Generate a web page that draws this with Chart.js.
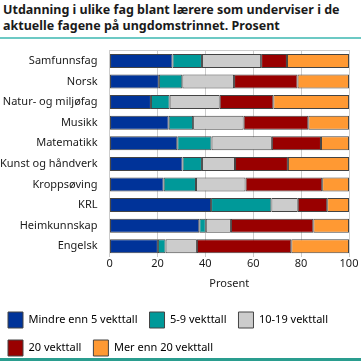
<!DOCTYPE html>
<html>
<head>
<meta charset="utf-8">
<script src="https://cdn.jsdelivr.net/npm/chart.js@4"></script>
<style>
  body { margin: 0; background: #fff; width: 361px; height: 361px; overflow: hidden; position: relative; }
  #title { position: absolute; left: 3px; top: 2px; font: bold 12.5px "Noto Sans", sans-serif; line-height: 16px; color: #1a1a1a; }
  #topline { position: absolute; left: 0; top: 37px; width: 361px; height: 2px; background: #6cc9c4; }
  #wrap { position: absolute; left: -4px; top: 40px; width: 365px; height: 326px; }
  #bottomline { position: absolute; left: 0; top: 358px; width: 361px; height: 3px; background: #2a9d8f; border-top: 0; }
  #cover { position: absolute; left: 0; top: 360px; width: 361px; height: 10px; background: #fff; }
</style>
</head>
<body>
<div id="title">Utdanning i ulike fag blant lærere som underviser i de<br>aktuelle fagene på ungdomstrinnet. Prosent</div>
<div id="topline"></div>
<div id="wrap"><canvas id="chart"></canvas></div>
<div id="bottomline"></div>
<script>
// fag (categories)
const subjects = ["Samfunnsfag", "Norsk", "Natur- og miljøfag", "Musikk", "Matematikk",
                  "Kunst og håndverk", "Kroppsøving", "KRL", "Heimkunnskap", "Engelsk"];

// percentages per education level
const under5  = [26.3, 20.6, 17.3, 24.7, 28.3, 30.5, 22.6, 42.4, 37.5, 20.2];
const from5to9 = [12.3, 9.8, 7.8, 10.2, 14.3, 8.1, 13.5, 25.2, 2.7, 3.2];
const from10to19 = [24.7, 21.6, 20.9, 21.1, 25.2, 13.8, 20.7, 11.0, 10.5, 13.1];
const exactly20 = [10.8, 26.5, 22.4, 27.0, 20.5, 22.1, 32.0, 12.3, 34.4, 39.4];
const over20  = [25.9, 21.5, 31.6, 17.0, 11.7, 25.5, 11.2, 9.1, 14.9, 24.1];

const seriesNames = ["Mindre enn 5 vekttall", "5-9 vekttall", "10-19 vekttall", "20 vekttall", "Mer enn 20 vekttall"];
const seriesData = [under5, from5to9, from10to19, exactly20, over20];
const colors = ["#003399", "#009999", "#cccccc", "#990000", "#ff9933"];

const xTicks = [0, 20, 40, 60, 80, 100];

Chart.defaults.font.family = "'Noto Sans', sans-serif";
Chart.defaults.font.size = 11;
Chart.defaults.color = "#1a1a1a";

var datasets = [];
for (var i = 0; i < seriesNames.length; i++) {
    datasets.push({
        label: seriesNames[i],
        data: seriesData[i],
        backgroundColor: colors[i],
        borderColor: "#444",
        borderWidth: 1,
        borderSkipped: false,
        barPercentage: 0.68,
        categoryPercentage: 1
    });
}

new Chart("chart", {
    type: "bar",
    data: { labels: subjects, datasets: datasets },
    options: {
        indexAxis: "y",
        responsive: true,
        maintainAspectRatio: false,
        animation: false,
        layout: { padding: { top: 0, right: 12, left: 0, bottom: 0 } },
        plugins: {
            tooltip: { enabled: false },
            legend: {
                position: "bottom",
                align: "start",
                labels: {
                    boxWidth: 15,
                    boxHeight: 16,
                    padding: 12,
                    color: "#1a1a1a",
                    generateLabels: function (chart) {
                        return chart.data.datasets.map(function (ds, idx) {
                            return {
                                text: ds.label,
                                fillStyle: ds.backgroundColor,
                                strokeStyle: "#444",
                                lineWidth: 1,
                                datasetIndex: idx
                            };
                        });
                    }
                }
            }
        },
        scales: {
            x: {
                stacked: true,
                min: 0,
                max: 100,
                afterBuildTicks: function (axis) {
                    axis.ticks = xTicks.map(function (v) { return { value: v }; });
                },
                grid: { color: "#cccccc", lineWidth: 1, tickLength: 0, drawTicks: true },
                border: { display: false },
                ticks: { padding: 1, font: { size: 11 } },
                title: { display: true, text: "Prosent", padding: { top: 5, bottom: 10 }, font: { size: 11 } }
            },
            x2: {
                position: "top",
                min: 0,
                max: 100,
                grid: { display: false, drawTicks: false },
                ticks: { display: false, padding: 0 },
                border: { display: true, color: "#cccccc", width: 1 }
            },
            y: {
                stacked: true,
                grid: { display: false },
                border: { display: false },
                ticks: { padding: 4, font: { size: 11 } }
            }
        }
    }
});
</script>
</body>
</html>
